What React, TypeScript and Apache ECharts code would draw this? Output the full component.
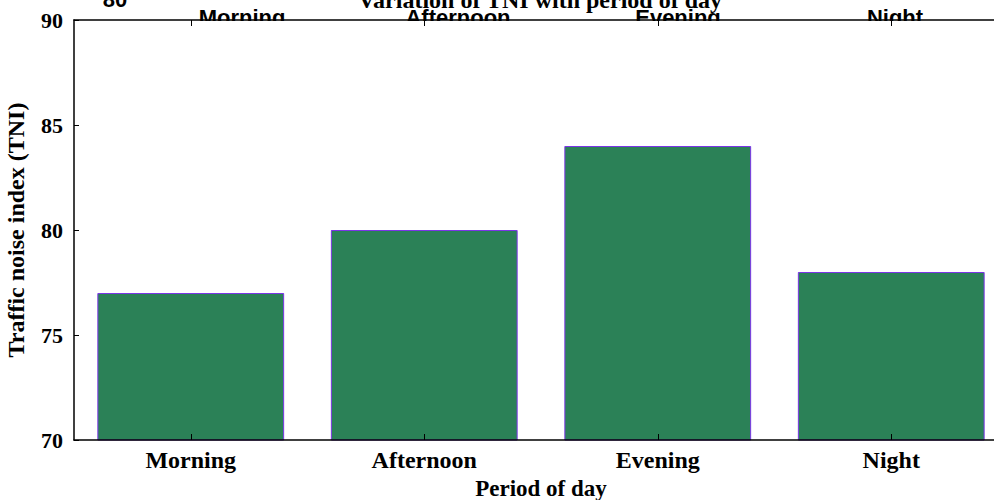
import React, { useEffect, useRef } from "react";
import * as echarts from "echarts";

const categories = ["Morning", "Afternoon", "Evening", "Night"];
const tniValues = [77, 80, 84, 78];
const yTicks = { min: 70, max: 90, interval: 5 };
const titleText = "Variation of TNI with period of day";
const xAxisName = "Period of day";
const yAxisName = "Traffic noise index (TNI)";
const strayTopLabel = "80";
const topLabelCenters = [242, 458, 678, 895];

const SERIF = "'Liberation Serif', 'Times New Roman', serif";
const SANS = "'Liberation Sans', Arial, sans-serif";

export default function App() {
  const ref = useRef<HTMLDivElement>(null);
  useEffect(() => {
    if (!ref.current) return;
    const chart = echarts.init(ref.current, undefined, { renderer: "svg" });
    const gridLeft = 74;
    const gridTop = 20;
    const gridWidth = 934;
    const gridHeight = 420;
    const topTexts = categories.map((c, i) => ({
      type: "text",
      z: 0,
      x: topLabelCenters[i],
      y: 28,
      style: {
        text: c,
        font: `bold 22px ${SANS}`,
        fill: "#000",
        textAlign: "center",
        textVerticalAlign: "bottom",
      },
    }));
    chart.setOption({
      animation: false,
      backgroundColor: "#fff",
      grid: {
        left: gridLeft,
        top: gridTop,
        width: gridWidth,
        height: gridHeight,
        containLabel: false,
        outerBoundsMode: "none",
      },
      graphic: {
        elements: [
          ...topTexts,
          {
            type: "text",
            z: 0,
            x: 115,
            y: 10,
            style: {
              text: strayTopLabel,
              font: `bold 22px ${SANS}`,
              fill: "#000",
              textAlign: "center",
              textVerticalAlign: "bottom",
            },
          },
          {
            type: "text",
            z: 0,
            x: 540,
            y: 12,
            style: {
              text: titleText,
              font: `bold 24px ${SERIF}`,
              fill: "#000",
              textAlign: "center",
              textVerticalAlign: "bottom",
            },
          },
          {
            type: "rect",
            z: 1,
            shape: { x: gridLeft + 1, y: gridTop + 1, width: 994 - gridLeft, height: gridHeight - 2 },
            style: { fill: "#fff" },
          },
        ],
      },
      xAxis: [
        {
          type: "category",
          data: categories,
          position: "bottom",
          z: 3,
          axisLine: { show: true, lineStyle: { color: "#000", width: 1.5 } },
          axisTick: { show: true, inside: true, alignWithLabel: true, length: 6, lineStyle: { color: "#000" } },
          axisLabel: {
            margin: 8,
            color: "#000",
            fontFamily: SERIF,
            fontWeight: "bold",
            fontSize: 24,
          },
          name: xAxisName,
          nameLocation: "middle",
          nameGap: 29,
          nameTextStyle: { color: "#000", fontFamily: SERIF, fontWeight: "bold", fontSize: 23 },
        },
        {
          type: "category",
          data: categories,
          position: "top",
          z: 3,
          axisLine: { show: true, lineStyle: { color: "#000", width: 1.5 } },
          axisTick: { show: true, inside: true, alignWithLabel: true, length: 6, lineStyle: { color: "#000" } },
          axisLabel: { show: false },
        },
      ],
      yAxis: {
        type: "value",
        min: yTicks.min,
        max: yTicks.max,
        interval: yTicks.interval,
        z: 3,
        splitLine: { show: false },
        axisLine: { show: true, lineStyle: { color: "#000", width: 1.5 } },
        axisTick: { show: true, inside: true, length: 5, lineStyle: { color: "#000" } },
        axisLabel: {
          margin: 11,
          color: "#000",
          fontFamily: SERIF,
          fontWeight: "bold",
          fontSize: 22,
        },
        name: yAxisName,
        nameLocation: "middle",
        nameGap: 46,
        nameTextStyle: { color: "#000", fontFamily: SERIF, fontWeight: "bold", fontSize: 24 },
      },
      series: [
        {
          type: "bar",
          data: tniValues,
          z: 2,
          barCategoryGap: "20%",
          itemStyle: { color: "#2b8157", borderColor: "#7a35e6", borderWidth: 1 },
        },
      ],
    });
    return () => chart.dispose();
  }, []);
  return <div ref={ref} style={{ width: 994, height: 500, position: "absolute", left: 0, top: 0 }} />;
}
